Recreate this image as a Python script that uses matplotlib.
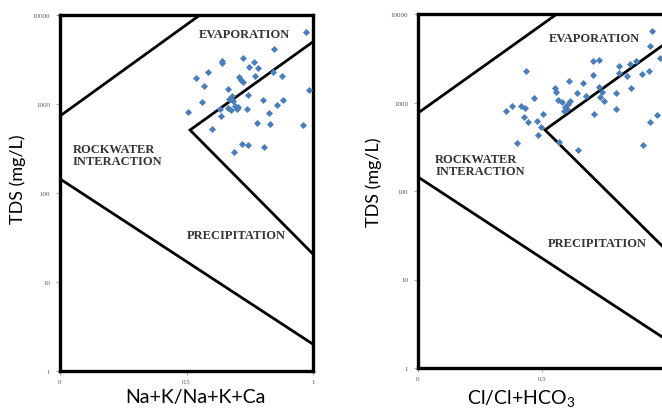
import numpy as np
import matplotlib
matplotlib.use("Agg")
import matplotlib.pyplot as plt

plt.rcParams["font.family"] = ["Lato", "DejaVu Sans"]
plt.rcParams["mathtext.fontset"] = "custom"
plt.rcParams["mathtext.rm"] = "Lato"
plt.rcParams["mathtext.it"] = "Lato:italic"

# ---- sample points (ratio, TDS mg/L) ----
cation_ratio = [0.971, 0.847, 0.639, 0.642, 0.725, 0.768, 0.748, 0.784, 0.584, 0.538,
                0.709, 0.715, 0.722, 0.771, 0.843, 0.876, 0.570, 0.664, 0.984, 0.742,
                0.679, 0.669, 0.685, 0.560, 0.804, 0.883, 0.856, 0.507, 0.632, 0.665,
                0.675, 0.698, 0.738, 0.826, 0.636, 0.777, 0.830, 0.959, 0.602, 0.718,
                0.744, 0.806, 0.688, 0.690, 0.705]
cation_tds = [6490, 4150, 3070, 2870, 3290, 2990, 2620, 2520, 2310, 1940,
              2030, 1880, 1750, 2050, 2310, 2080, 1610, 1470, 1450, 1260,
              1240, 1140, 1090, 1045, 1110, 1110, 975, 806, 879, 902,
              856, 879, 871, 786, 727, 612, 596, 586, 524, 355,
              346, 331, 287, 960, 930]

anion_ratio = [0.942, 0.935, 0.976, 0.704, 0.730, 0.434, 0.812, 0.855, 0.879, 0.704,
               0.812, 0.841, 0.902, 0.931, 0.610, 0.667, 0.552, 0.556, 0.731, 0.741,
               0.640, 0.859, 0.798, 0.469, 0.566, 0.579, 0.613, 0.606, 0.677, 0.734,
               0.750, 0.593, 0.602, 0.590, 0.355, 0.378, 0.415, 0.431, 0.798, 0.503,
               0.711, 0.429, 0.479, 0.442, 0.962, 0.935, 0.496, 0.485, 0.401, 0.570,
               0.644, 0.906]
anion_tds = [6470, 4320, 3160, 2920, 3050, 2290, 2560, 2720, 2920, 2060,
             2150, 2010, 2100, 2290, 1740, 1660, 1460, 1300, 1480, 1330,
             1270, 1460, 1270, 1110, 1070, 1020, 1050, 962, 1190, 1150,
             1050, 883, 845, 808, 808, 906, 920, 860, 845, 741,
             741, 691, 623, 597, 722, 607, 533, 429, 349, 355,
             293, 331]

# ---- Gibbs boundary lines ----
left_upper_x, left_upper_y = [0, 0.553], [733, 10000]
left_lower_x, left_lower_y = [0, 1], [144, 2.0]
left_boom_x, left_boom_y = [1, 0.514, 1], [5000, 510, 20.6]

right_upper_x, right_upper_y = [0, 0.56], [760, 10000]
right_lower_x, right_lower_y = [0, 1], [144, 2.1]
right_boom_x, right_boom_y = [1, 0.512, 1], [4700, 490, 21.7]

yticks = [1, 10, 100, 1000, 10000]
ytick_labels = ["1", "10", "100", "1000", "10000"]
# the right panel runs past the picture edge, so its "1" tick is not shown
left_xticks, left_xtick_labels = [0, 0.5, 1], ["0", "0.5", "1"]
right_xticks, right_xtick_labels = [0, 0.5], ["0", "0.5"]

W, H = 662, 410
fig = plt.figure(figsize=(W / 100, H / 100), dpi=100)


def px_axes(x0, y0, x1, y1):
    # pixel box (left, top, right, bottom) -> figure fraction
    return fig.add_axes([x0 / W, 1 - y1 / H, (x1 - x0) / W, (y1 - y0) / H])


ax1 = px_axes(60, 16, 313, 372)
ax2 = px_axes(418, 15, 666, 369)

panels = [
    (ax1, cation_ratio, cation_tds,
     [(left_upper_x, left_upper_y), (left_lower_x, left_lower_y), (left_boom_x, left_boom_y)],
     left_xticks, left_xtick_labels,
     "Na+K/Na+K+Ca", (0.534, -0.048), (-0.135, 0.542),
     [(0.727, 6120), (0.051, 264), (0.696, 33.7)]),
    (ax2, anion_ratio, anion_tds,
     [(right_upper_x, right_upper_y), (right_lower_x, right_lower_y), (right_boom_x, right_boom_y)],
     right_xticks, right_xtick_labels,
     "Cl/Cl+HCO$_3$", (0.415, -0.055), (-0.145, 0.528),
     [(0.710, 5350), (0.069, 197), (0.722, 25.8)]),
]

serif = dict(family="Liberation Serif", fontweight="bold", fontsize=9, color="#333333")

for ax, xs, ys, lines, xt, xtl, xlabel, xl_pos, yl_pos, txt in panels:
    ax.set_yscale("log")
    ax.set_xlim(0, 1)
    ax.set_ylim(1, 10000)
    for lx, ly in lines:
        ax.plot(lx, ly, color="black", lw=2.0, solid_joinstyle="miter")
    ax.scatter(xs, ys, marker="D", s=13, color="#4a7ebb", linewidths=0, zorder=3)

    ax.set_yticks(yticks)
    ax.set_yticklabels(ytick_labels)
    ax.set_xticks(xt)
    ax.set_xticklabels(xtl)
    ax.minorticks_off()
    ax.tick_params(length=3, width=0.6, color="#999999", labelsize=5,
                   labelcolor="#555555", pad=4)
    ax.tick_params(axis="x", pad=3)
    for lab in ax.get_xticklabels() + ax.get_yticklabels():
        lab.set_family("Liberation Serif")
    for sp in ax.spines.values():
        sp.set_linewidth(2.4)
        sp.set_color("black")

    ax.set_xlabel(xlabel, fontsize=14)
    ax.xaxis.set_label_coords(*xl_pos)
    ax.set_ylabel("TDS (mg/L)", fontsize=13)
    ax.yaxis.set_label_coords(*yl_pos)

    ax.text(txt[0][0], txt[0][1], "EVAPORATION", ha="center", va="center", **serif)
    ax.text(txt[1][0], txt[1][1], "ROCKWATER\nINTERACTION", ha="left", va="center",
            linespacing=1.0, **serif)
    ax.text(txt[2][0], txt[2][1], "PRECIPITATION", ha="center", va="center", **serif)

fig.savefig("out.png", dpi=100)
